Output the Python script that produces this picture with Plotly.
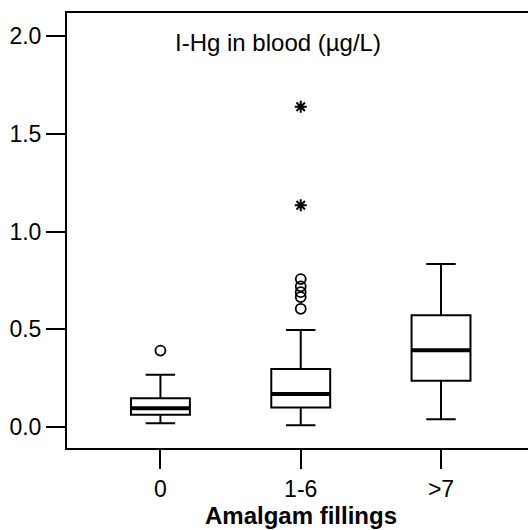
import plotly.graph_objects as go

# Amalgam filling groups and box-plot summary statistics (I-Hg in blood, µg/L)
categories = ["0", "1-6", ">7"]
q1 = [0.062, 0.099, 0.237]
median = [0.096, 0.168, 0.393]
q3 = [0.147, 0.297, 0.572]
lower_whisker = [0.019, 0.009, 0.039]
upper_whisker = [0.267, 0.497, 0.835]

# Outliers (circles) and extreme values (stars)
outlier_x = ["0", "1-6", "1-6", "1-6", "1-6", "1-6"]
outlier_y = [0.391, 0.757, 0.720, 0.690, 0.665, 0.605]
extreme_x = ["1-6", "1-6"]
extreme_y = [1.640, 1.135]

y_ticks = [0.0, 0.5, 1.0, 1.5, 2.0]

FONT = "Liberation Sans, Arial, sans-serif"
BOX_W = 0.42

fig = go.Figure()

# Boxes with whiskers
fig.add_trace(go.Box(
    x=categories, q1=q1, median=median, q3=q3,
    lowerfence=lower_whisker, upperfence=upper_whisker,
    boxpoints=False, width=BOX_W, whiskerwidth=0.5,
    fillcolor="white", line=dict(color="black", width=2),
    showlegend=False, hoverinfo="skip",
))

# Heavier median bars drawn as degenerate boxes at the median
fig.add_trace(go.Box(
    x=categories, q1=median, median=median, q3=median,
    lowerfence=median, upperfence=median,
    boxpoints=False, width=BOX_W, whiskerwidth=0,
    fillcolor="black", line=dict(color="black", width=4),
    showlegend=False, hoverinfo="skip",
))

fig.add_trace(go.Scatter(
    x=outlier_x, y=outlier_y, mode="markers",
    marker=dict(symbol="circle-open", size=10, color="black",
                line=dict(width=1.8, color="black")),
    showlegend=False, hoverinfo="skip",
))

fig.add_trace(go.Scatter(
    x=extreme_x, y=extreme_y, mode="markers",
    marker=dict(symbol="asterisk-open", size=10, color="black",
                line=dict(width=2, color="black")),
    showlegend=False, hoverinfo="skip",
))

fig.add_annotation(
    text="I-Hg in blood (µg/L)", xref="paper", yref="paper",
    x=0.458, y=0.932, xanchor="center", yanchor="middle",
    showarrow=False, font=dict(family=FONT, size=24, color="black"),
)

fig.add_annotation(
    text="<b>Amalgam fillings</b>", xref="x", yref="paper",
    x="1-6", y=-0.155, xanchor="center", yanchor="middle",
    showarrow=False, font=dict(family=FONT, size=24, color="black"),
)

fig.update_layout(
    width=528, height=530,
    margin=dict(l=67, r=0, t=13, b=82),
    paper_bgcolor="white", plot_bgcolor="white",
    boxmode="overlay",
    font=dict(family=FONT, size=23, color="black"),
)

fig.update_xaxes(
    type="category", categoryorder="array", categoryarray=categories,
    range=[-0.666, 2.62],
    showline=True, mirror=True, linecolor="black", linewidth=2,
    ticks="outside", ticklen=19, tickwidth=2, tickcolor="black",
    showgrid=False, zeroline=False,
    tickfont=dict(family=FONT, size=23, color="black"),
)

fig.update_yaxes(
    range=[-0.108, 2.12],
    tickvals=y_ticks, tickformat=".1f",
    showline=True, mirror=False, linecolor="black", linewidth=2,
    ticks="outside", ticklen=19, tickwidth=2, tickcolor="black",
    showgrid=False, zeroline=False,
    tickfont=dict(family=FONT, size=23, color="black"),
)

fig.write_html("out.html")
